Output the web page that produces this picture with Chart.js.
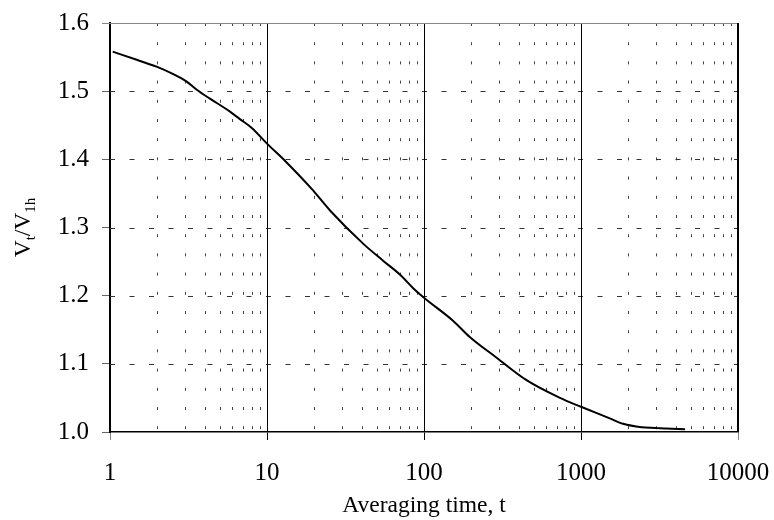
<!DOCTYPE html>
<html>
<head>
<meta charset="utf-8">
<script src="https://cdn.jsdelivr.net/npm/chart.js@4.4.1/dist/chart.umd.min.js"></script>
<style>
  html, body { margin: 0; padding: 0; background: #fff; }
  #wrap { width: 774px; height: 520px; }
</style>
</head>
<body>
<div id="wrap"><canvas id="gustChart" width="774" height="520"></canvas></div>
<script>
// averaging time t and ratio Vt/V1h
const times = [1.04, 1.48, 1.98, 2.53, 3.08, 3.57, 4.33, 5.81, 6.72, 8.0, 10, 13, 19.2, 25.2, 41.1, 55.1, 70.2, 85.3, 100, 153.6, 196.5, 290, 450, 735, 1000, 1525, 1855, 2430, 3000, 3500, 4600];
const ratios = [1.558, 1.546, 1.536, 1.525, 1.514, 1.502, 1.489, 1.470, 1.459, 1.446, 1.423, 1.398, 1.357, 1.325, 1.276, 1.251, 1.231, 1.211, 1.197, 1.163, 1.139, 1.109, 1.076, 1.050, 1.037, 1.020, 1.012, 1.007, 1.006, 1.005, 1.004];

const xMajors = [1, 10, 100, 1000, 10000];
const yTicks = [1.0, 1.1, 1.2, 1.3, 1.4, 1.5, 1.6];
const xTitle = 'Averaging time, t';

const serif = '"Liberation Serif", "Times New Roman", serif';
const tickSize = 25;
const titleSize = 23.5;

const points = times.map((t, i) => ({ x: t, y: ratios[i] }));

// grid lines inside the plot + the top/right frame
const gridPlugin = {
    id: 'gridPlugin',
    beforeDatasetsDraw(chart) {
        const ctx = chart.ctx;
        const area = chart.chartArea;
        const xs = chart.scales.x;
        const ys = chart.scales.y;

        ctx.save();
        ctx.lineWidth = 1;

        // minor verticals, short dashes
        ctx.strokeStyle = '#444';
        ctx.setLineDash([3, 16.2]);
        for (let d = 0; d < 4; d++) {
            for (let k = 2; k <= 9; k++) {
                const px = Math.round(xs.getPixelForValue(k * Math.pow(10, d))) + 0.5;
                ctx.beginPath();
                ctx.moveTo(px, area.top);
                ctx.lineTo(px, area.bottom);
                ctx.stroke();
            }
        }

        // horizontal dashed lines
        ctx.strokeStyle = '#333';
        ctx.setLineDash([5, 14.5]);
        yTicks.slice(1, -1).forEach(v => {
            const py = Math.round(ys.getPixelForValue(v)) + 0.5;
            ctx.beginPath();
            ctx.moveTo(area.left, py);
            ctx.lineTo(area.right, py);
            ctx.stroke();
        });

        // major verticals
        ctx.setLineDash([]);
        ctx.strokeStyle = '#000';
        xMajors.slice(1, -1).forEach(v => {
            const px = Math.round(xs.getPixelForValue(v)) + 0.5;
            ctx.beginPath();
            ctx.moveTo(px, area.top);
            ctx.lineTo(px, area.bottom);
            ctx.stroke();
        });

        // top line (grey) and right border
        ctx.strokeStyle = '#888';
        ctx.beginPath();
        ctx.moveTo(area.left - 8, Math.round(area.top) + 0.5);
        ctx.lineTo(area.right, Math.round(area.top) + 0.5);
        ctx.stroke();

        ctx.strokeStyle = '#000';
        ctx.lineWidth = 2;
        ctx.beginPath();
        ctx.moveTo(area.right, area.top);
        ctx.lineTo(area.right, area.bottom);
        ctx.stroke();
        ctx.restore();
    },
    afterDraw(chart) {
        // y title with subscripts: Vt/V1h
        const ctx = chart.ctx;
        const area = chart.chartArea;
        const big = titleSize + 'px ' + serif;
        const small = '15px ' + serif;
        const parts = [
            { text: 'V', font: big, dy: 0 },
            { text: 't', font: small, dy: 5 },
            { text: '/', font: big, dy: 0 },
            { text: 'V', font: big, dy: 0 },
            { text: '1h', font: small, dy: 5 }
        ];
        ctx.save();
        let total = 0;
        parts.forEach(p => {
            ctx.font = p.font;
            p.w = ctx.measureText(p.text).width;
            total += p.w;
        });
        ctx.translate(30, (area.top + area.bottom) / 2);
        ctx.rotate(-Math.PI / 2);
        ctx.fillStyle = '#000';
        ctx.textBaseline = 'alphabetic';
        let x = -total / 2;
        parts.forEach(p => {
            ctx.font = p.font;
            ctx.fillText(p.text, x, p.dy);
            x += p.w;
        });
        ctx.restore();
    }
};

const ctx = document.getElementById('gustChart').getContext('2d');

new Chart(ctx, {
    type: 'line',
    data: {
        datasets: [{
            data: points,
            borderColor: '#000',
            borderWidth: 2,
            pointRadius: 0,
            cubicInterpolationMode: 'monotone',
            fill: false
        }]
    },
    options: {
        responsive: false,
        animation: false,
        layout: {
            padding: { left: 0, right: 36, top: 23, bottom: 0 }
        },
        plugins: {
            legend: { display: false },
            tooltip: { enabled: false }
        },
        scales: {
            x: {
                type: 'logarithmic',
                min: 1,
                max: 10000,
                afterFit: scale => {
                    scale.height = 88;
                    scale.paddingLeft = 0;
                    scale.paddingRight = 0;
                },
                border: { color: '#000', width: 1.5 },
                grid: {
                    drawOnChartArea: false,
                    drawTicks: true,
                    tickLength: 8,
                    color: c => (c.tick && (c.tick.value === 1 || c.tick.value === 10000)) ? '#888' : '#000'
                },
                ticks: {
                    autoSkip: false,
                    maxRotation: 0,
                    padding: 18,
                    color: '#000',
                    font: { family: serif, size: tickSize },
                    callback: value => xMajors.includes(value) ? String(value) : null
                },
                title: {
                    display: true,
                    text: xTitle,
                    color: '#000',
                    font: { family: serif, size: titleSize },
                    padding: { top: 0, bottom: 0 }
                }
            },
            y: {
                min: 1.0,
                max: 1.6,
                afterFit: scale => {
                    scale.width = 110;
                    scale.paddingTop = 0;
                    scale.paddingBottom = 0;
                },
                afterBuildTicks: scale => { scale.ticks = yTicks.map(v => ({ value: v })); },
                border: { color: '#000', width: 2 },
                grid: {
                    drawOnChartArea: false,
                    drawTicks: true,
                    tickLength: 8,
                    color: '#666'
                },
                ticks: {
                    padding: 13,
                    color: '#000',
                    font: { family: serif, size: tickSize },
                    callback: value => value.toFixed(1)
                }
            }
        }
    },
    plugins: [gridPlugin]
});
</script>
</body>
</html>
